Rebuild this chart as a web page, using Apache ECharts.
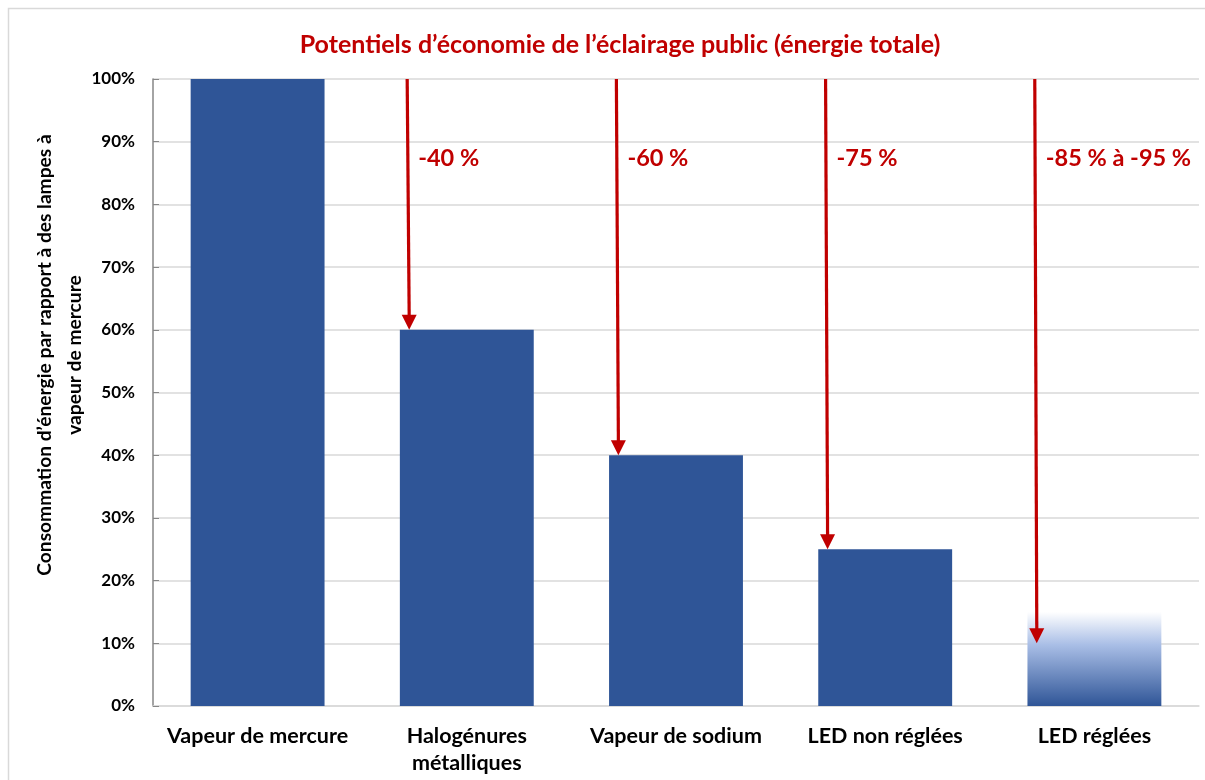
<!DOCTYPE html>
<html>
<head>
<meta charset="utf-8">
<script src="https://cdn.jsdelivr.net/npm/echarts@6/dist/echarts.min.js"></script>
<style>
html,body{margin:0;padding:0;background:#fff;}
#chart{width:1205px;height:780px;}
</style>
</head>
<body>
<div id="chart"></div>
<script>
var categories = ['Vapeur de mercure', 'Halogénures\nmétalliques', 'Vapeur de sodium', 'LED non réglées', 'LED réglées'];
var consumption = [100, 60, 40, 25, 15];
var arrowCategoryIndex = [1, 2, 3, 4];
var arrowTargets = [60, 40, 25, 10];
var arrowLabels = ['-40 %', '-60 %', '-75 %', '-85 % à -95 %'];
var yTicks = [0, 10, 20, 30, 40, 50, 60, 70, 80, 90, 100];

var FONT = 'Lato';
var RED = '#C00000';
var BLUE = '#2F5597';

var chart = echarts.init(document.getElementById('chart'), null, {renderer: 'canvas'});

var barData = consumption.map(function (v, i) {
  if (i === consumption.length - 1) {
    return {
      value: v,
      itemStyle: {
        color: new echarts.graphic.LinearGradient(0, 0, 0, 1, [
          {offset: 0, color: '#FFFFFF'},
          {offset: 0.35, color: '#A9BEE6'},
          {offset: 1, color: BLUE}
        ])
      }
    };
  }
  return v;
});

var arrowData = arrowCategoryIndex.map(function (c, i) { return [c, arrowTargets[i], i]; });

function renderArrow(params, api) {
  var ci = api.value(0), v = api.value(1), li = api.value(2);
  var top = api.coord([ci, 100]);
  var bot = api.coord([ci, v]);
  var bw = api.size([1, 0])[0];
  var x1 = top[0] - bw * 0.285;
  var x2 = x1 + 2;
  var labPos = api.coord([ci, 87.3]);
  var headH = 15, headW = 7.5;
  return {
    type: 'group',
    children: [
      {type: 'line', shape: {x1: x1, y1: top[1], x2: x2, y2: bot[1] - headH + 1},
       style: {stroke: RED, lineWidth: 3.2}},
      {type: 'polygon', shape: {points: [[x2 - headW, bot[1] - headH], [x2 + headW, bot[1] - headH], [x2, bot[1]]]},
       style: {fill: RED}},
      {type: 'text', x: x1 + 11, y: labPos[1],
       style: {text: arrowLabels[li], fill: RED, font: 'bold 23.5px ' + FONT, textAlign: 'left', textVerticalAlign: 'middle'}}
    ]
  };
}

var option = {
  backgroundColor: '#fff',
  animation: false,
  title: {
    text: 'Potentiels d’économie de l’éclairage public (énergie totale)',
    left: 615, top: 27, textAlign: 'center',
    textStyle: {color: RED, fontFamily: FONT, fontWeight: 'bold', fontSize: 25}
  },
  graphic: [
    {type: 'rect', shape: {x: 8.5, y: 8.5, width: 1220, height: 800},
     style: {fill: null, stroke: '#D9D9D9', lineWidth: 1.5}, silent: true, z: -1},
    {type: 'text', x: 60, y: 355, rotation: Math.PI / 2,
     style: {text: 'Consommation d’énergie par rapport à des lampes à\nvapeur de mercure',
       font: 'bold 19.2px ' + FONT, fill: '#000', textAlign: 'center', textVerticalAlign: 'middle', lineHeight: 30}}
  ],
  grid: {left: 153, right: 6, top: 79, bottom: 74, containLabel: false},
  xAxis: {
    type: 'category',
    data: categories,
    axisLine: {show: true, lineStyle: {color: '#D9D9D9', width: 1.5}},
    axisTick: {show: false},
    axisLabel: {color: '#000', fontFamily: FONT, fontWeight: 'bold', fontSize: 21.5, margin: 17, lineHeight: 27, interval: 0}
  },
  yAxis: {
    type: 'value',
    min: 0, max: 100, interval: 10,
    axisLine: {show: true, lineStyle: {color: '#868686', width: 1.5}},
    axisTick: {show: true, inside: true, length: 6, lineStyle: {color: '#868686'}},
    splitLine: {show: true, lineStyle: {color: '#D9D9D9', width: 1.5}},
    axisLabel: {
      color: '#000', fontFamily: FONT, fontWeight: 'bold', fontSize: 17, margin: 18,
      formatter: function (v) { return yTicks.indexOf(v) >= 0 ? v + '%' : ''; }
    }
  },
  series: [
    {type: 'bar', data: barData, barWidth: '64%', itemStyle: {color: BLUE}, z: 2},
    {type: 'custom', renderItem: renderArrow, data: arrowData, z: 5,
     encode: {x: 0, y: 1}, clip: false}
  ]
};
chart.setOption(option);
</script>
</body>
</html>
